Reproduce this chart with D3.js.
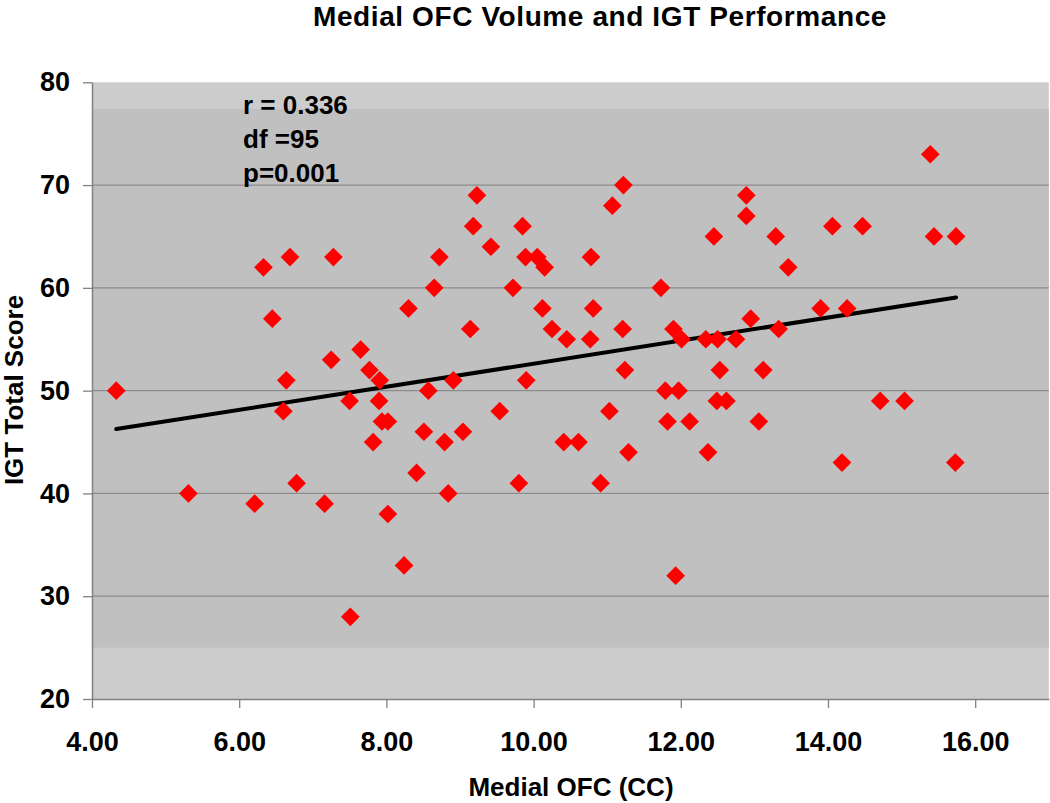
<!DOCTYPE html>
<html>
<head>
<meta charset="utf-8">
<script src="https://cdn.jsdelivr.net/npm/d3@7"></script>
<style>
  html, body { margin: 0; padding: 0; background: #ffffff; }
  svg { display: block; }
  text { font-family: "Liberation Sans", Arial, sans-serif; font-weight: bold; fill: #000; }
</style>
</head>
<body>
<svg id="chart" width="1050" height="803"></svg>
<script>
// ---- data ----
const volumeCC = [
  4.33, 5.31, 6.21, 6.33, 6.45, 6.60, 6.64, 6.69, 6.78, 7.16,
  7.25, 7.28, 7.50, 7.51, 7.65, 7.77, 7.82, 7.90, 7.91, 7.94,
  8.02, 8.02, 8.24, 8.30, 8.41, 8.51, 8.57, 8.65, 8.72, 8.79,
  8.84, 8.91, 9.04, 9.14, 9.18, 9.23, 9.42, 9.54, 9.72, 9.80,
  9.85, 9.89, 9.90, 10.05, 10.12, 10.15, 10.25, 10.41, 10.45, 10.61,
  10.77, 10.78, 10.81, 10.91, 11.03, 11.07, 11.21, 11.22, 11.24, 11.29,
  11.73, 11.79, 11.82, 11.90, 11.93, 11.97, 12.01, 12.12, 12.34, 12.37,
  12.45, 12.49, 12.50, 12.53, 12.62, 12.75, 12.89, 12.89, 12.95, 13.06,
  13.12, 13.29, 13.33, 13.46, 13.90, 14.06, 14.19, 14.26, 14.47, 14.71,
  15.04, 15.39, 15.44, 15.73, 15.74
];
const igtScore = [
  50, 40, 39, 62, 57, 48, 51, 63, 41, 39,
  53, 63, 49, 28, 54, 52, 45, 49, 51, 47,
  47, 38, 33, 58, 42, 46, 50, 60, 63, 45,
  40, 51, 46, 56, 66, 69, 64, 48, 60, 41,
  66, 63, 51, 63, 58, 62, 56, 45, 55, 45,
  55, 63, 58, 41, 48, 68, 56, 70, 52, 44,
  60, 50, 47, 56, 32, 50, 55, 47, 55, 44,
  65, 49, 55, 52, 49, 55, 69, 67, 57, 47,
  52, 65, 56, 62, 58, 66, 43, 58, 66, 49,
  49, 73, 65, 43, 65
];
const trendX = [4.33, 15.74];
const trendY = [46.26, 59.07];
const xTicks = [4, 6, 8, 10, 12, 14, 16];
const yTicks = [20, 30, 40, 50, 60, 70, 80];
const bandRange = [25, 77.4];
const statLines = ["r = 0.336", "df =95", "p=0.001"];
const titleText = "Medial OFC Volume and IGT Performance";
const xTitle = "Medial OFC (CC)";
const yTitle = "IGT Total Score";

// ---- layout ----
const svg = d3.select("#chart");
const x = d3.scaleLinear().domain([4, 17]).range([92, 1048.8]);
const y = d3.scaleLinear().domain([20, 80]).range([699, 82.3]);

// plot background
svg.append("rect")
  .attr("x", x(4)).attr("y", y(80))
  .attr("width", x(17) - x(4)).attr("height", y(20) - y(80))
  .attr("fill", "#cccccc");
svg.append("rect")
  .attr("x", x(4)).attr("y", y(bandRange[1]))
  .attr("width", x(17) - x(4)).attr("height", y(bandRange[0]) - y(bandRange[1]))
  .attr("fill", "#c0c0c0");

// gridlines
svg.append("g").selectAll("line")
  .data(yTicks.filter(t => t > 20 && t < 80))
  .join("line")
  .attr("x1", x(4)).attr("x2", x(17))
  .attr("y1", d => y(d)).attr("y2", d => y(d))
  .attr("stroke", "#8c8c8c").attr("stroke-width", 1.3);

// axes
const yAxis = d3.axisLeft(y).tickValues(yTicks).tickSize(9).tickSizeOuter(0).tickPadding(13)
  .tickFormat(d3.format("d"));
const gy = svg.append("g").attr("transform", `translate(${x(4)},0)`).call(yAxis);
gy.select(".domain").attr("stroke", "#808080").attr("stroke-width", 1.5);
gy.selectAll(".tick line").attr("stroke", "#808080").attr("stroke-width", 1.3);
gy.selectAll(".tick text").style("font-size", "27px").attr("fill", "#000")
  .style("font-family", "'Liberation Sans', Arial, sans-serif").style("font-weight", "bold");

const xAxis = d3.axisBottom(x).tickValues(xTicks).tickSize(9).tickSizeOuter(0).tickPadding(24)
  .tickFormat(d3.format(".2f"));
const gx = svg.append("g").attr("transform", `translate(0,${y(20)})`).call(xAxis);
gx.select(".domain").attr("stroke", "#808080").attr("stroke-width", 1.5);
gx.selectAll(".tick line").attr("stroke", "#808080").attr("stroke-width", 1.3);
gx.selectAll(".tick text").style("font-size", "27px").attr("fill", "#000")
  .style("font-family", "'Liberation Sans', Arial, sans-serif").style("font-weight", "bold");

// trend line
const trend = trendX.map((v, i) => [v, trendY[i]]);
svg.append("path")
  .datum(trend)
  .attr("d", d3.line().x(d => x(d[0])).y(d => y(d[1])))
  .attr("stroke", "#000").attr("stroke-width", 4).attr("fill", "none")
  .attr("stroke-linecap", "round");

// points (diamonds = rotated squares)
const pts = volumeCC.map((v, i) => ({ x: v, y: igtScore[i] }));
const diamond = d3.symbol().type(d3.symbolSquare).size(175);
svg.append("g").selectAll("path")
  .data(pts)
  .join("path")
  .attr("d", diamond)
  .attr("transform", d => `translate(${x(d.x)},${y(d.y)}) rotate(45)`)
  .attr("fill", "#ff0000");

// stats text
svg.append("g").selectAll("text")
  .data(statLines)
  .join("text")
  .attr("x", 243)
  .attr("y", (d, i) => 114 + i * 34)
  .style("font-size", "26px")
  .text(d => d);

// title
svg.append("text")
  .attr("x", 600).attr("y", 26)
  .attr("text-anchor", "middle")
  .style("font-size", "28px")
  .style("letter-spacing", "0.6px")
  .text(titleText);

// axis titles
svg.append("text")
  .attr("x", 571).attr("y", 796)
  .attr("text-anchor", "middle")
  .style("font-size", "26px")
  .text(xTitle);

svg.append("text")
  .attr("transform", "translate(23,390) rotate(-90)")
  .attr("text-anchor", "middle")
  .style("font-size", "26px")
  .text(yTitle);
</script>
</body>
</html>
